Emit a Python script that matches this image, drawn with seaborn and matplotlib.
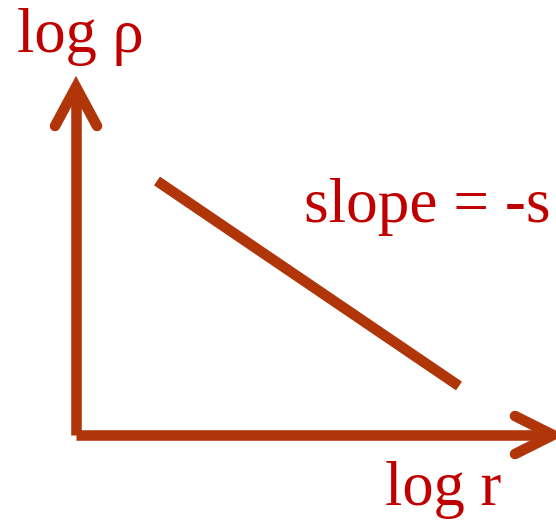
import matplotlib
matplotlib.use("Agg")
import matplotlib.pyplot as plt
import seaborn as sns
import pandas as pd

sns.set_theme(style="white")
plt.rcParams["font.family"] = ["Liberation Serif", "DejaVu Serif"]

# Diagram coordinates (canvas units, origin bottom-left)
origin = (76, 90)
x_axis_end = 553
y_axis_end = 438
slope_x = [157, 459]
slope_y = [344, 139]
labels = {"y": "log ρ", "x": "log r", "slope": "slope = -s"}

line_color = "#B0360A"
text_color = "#C00000"
lw = 7.6

fig = plt.figure(figsize=(5.56, 5.25), dpi=100)
ax = fig.add_axes([0, 0, 1, 1])
ax.set_xlim(0, 556)
ax.set_ylim(0, 525)
ax.axis("off")

# Axes shafts
ax.plot([origin[0], origin[0]], [origin[1], y_axis_end - 4], color=line_color,
        lw=lw, solid_capstyle="butt")
ax.plot([origin[0], x_axis_end - 4], [origin[1], origin[1]], color=line_color,
        lw=lw, solid_capstyle="butt")

# Open chevron arrowheads
ax.plot([origin[0] - 21, origin[0], origin[0] + 21],
        [y_axis_end - 39, y_axis_end, y_axis_end - 39],
        color=line_color, lw=lw, solid_capstyle="round", solid_joinstyle="miter")
ax.plot([x_axis_end - 38, x_axis_end, x_axis_end - 38],
        [origin[1] + 19, origin[1], origin[1] - 19],
        color=line_color, lw=lw, solid_capstyle="round", solid_joinstyle="miter")

# Power-law segment
df = pd.DataFrame({"log_r": slope_x, "log_rho": slope_y})
sns.lineplot(data=df, x="log_r", y="log_rho", ax=ax, color=line_color, lw=lw,
             solid_capstyle="butt")

ax.text(17, 473, labels["y"], color=text_color, fontsize=45, va="baseline", ha="left")
ax.text(385, 20, labels["x"], color=text_color, fontsize=45, va="baseline", ha="left")
ax.text(304, 303, labels["slope"], color=text_color, fontsize=45.5, va="baseline", ha="left")

ax.set_xlabel("")
ax.set_ylabel("")
fig.savefig("out.png", dpi=100)
